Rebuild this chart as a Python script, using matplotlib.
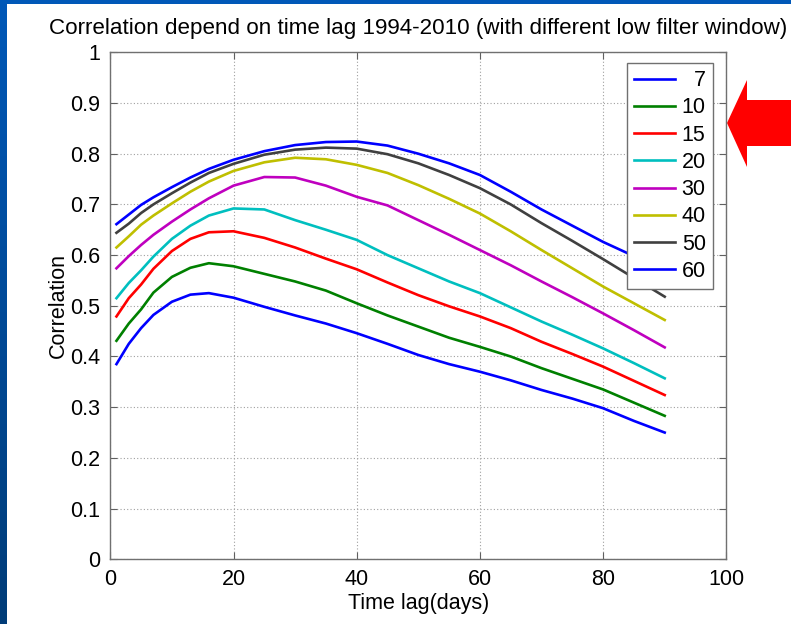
import numpy as np
import matplotlib
matplotlib.use("Agg")
import matplotlib.pyplot as plt
from matplotlib.patches import Polygon, Rectangle
from matplotlib.colors import LinearSegmentedColormap

plt.rcParams['font.family'] = ['Liberation Sans', 'DejaVu Sans']

# ---- data ----
lags = [1, 3, 5, 7, 10, 13, 16, 20, 25, 30, 35, 40, 45, 50, 55, 60, 65, 70, 75, 80, 85, 90]
windows = ["7", "10", "15", "20", "30", "40", "50", "60"]
corr_7 = [0.385, 0.425, 0.456, 0.482, 0.508, 0.522, 0.525, 0.516, 0.498, 0.481, 0.465, 0.446,
          0.425, 0.403, 0.385, 0.370, 0.353, 0.334, 0.317, 0.298, 0.273, 0.250]
corr_10 = [0.431, 0.465, 0.493, 0.526, 0.557, 0.575, 0.584, 0.578, 0.563, 0.548, 0.530, 0.505,
           0.481, 0.459, 0.437, 0.419, 0.400, 0.377, 0.356, 0.335, 0.309, 0.283]
corr_15 = [0.479, 0.515, 0.542, 0.573, 0.608, 0.632, 0.645, 0.647, 0.634, 0.615, 0.593, 0.572,
           0.546, 0.521, 0.499, 0.479, 0.456, 0.429, 0.405, 0.380, 0.352, 0.324]
corr_20 = [0.515, 0.545, 0.570, 0.597, 0.632, 0.658, 0.678, 0.692, 0.690, 0.669, 0.650, 0.630,
           0.600, 0.574, 0.548, 0.525, 0.497, 0.469, 0.443, 0.416, 0.387, 0.357]
corr_30 = [0.574, 0.598, 0.620, 0.640, 0.666, 0.690, 0.712, 0.737, 0.754, 0.753, 0.737, 0.715,
           0.698, 0.669, 0.640, 0.610, 0.580, 0.548, 0.517, 0.485, 0.452, 0.418]
corr_40 = [0.615, 0.637, 0.660, 0.678, 0.702, 0.725, 0.745, 0.766, 0.783, 0.792, 0.789, 0.778,
           0.762, 0.738, 0.711, 0.682, 0.647, 0.610, 0.574, 0.538, 0.505, 0.472]
corr_50 = [0.644, 0.662, 0.683, 0.700, 0.722, 0.743, 0.762, 0.780, 0.798, 0.808, 0.812, 0.810,
           0.799, 0.781, 0.758, 0.732, 0.700, 0.663, 0.628, 0.592, 0.555, 0.518]
corr_60 = [0.661, 0.680, 0.699, 0.714, 0.734, 0.753, 0.770, 0.788, 0.805, 0.817, 0.823, 0.824,
           0.816, 0.800, 0.781, 0.758, 0.725, 0.690, 0.658, 0.626, 0.598, 0.565]
xticks = [0, 20, 40, 60, 80, 100]
yticks = [0, 0.1, 0.2, 0.3, 0.4, 0.5, 0.6, 0.7, 0.8, 0.9, 1]
ytick_labels = ["0", "0.1", "0.2", "0.3", "0.4", "0.5", "0.6", "0.7", "0.8", "0.9", "1"]

series = [corr_7, corr_10, corr_15, corr_20, corr_30, corr_40, corr_50, corr_60]
colors = ["#0000ff", "#008000", "#ff0000", "#00bfbf", "#bf00bf", "#bfbf00", "#404040", "#0000ff"]

W, H = 791, 624
fig = plt.figure(figsize=(W / 100, H / 100), dpi=100)
fig.patch.set_facecolor("white")

# slide background strips
bg = fig.add_axes([0, 0, 1, 1], zorder=-10)
bg.axis("off")
grad = np.linspace(0, 1, 200).reshape(-1, 1)
cm = LinearSegmentedColormap.from_list("slide", ["#0058b8", "#003c78"])
bg.imshow(grad, cmap=cm, extent=[0, 7, H, 0], aspect="auto")
bg.add_patch(Rectangle((0, 0), W, 4, color="#0058b8", lw=0))
bg.set_xlim(0, W); bg.set_ylim(H, 0)
# red arrow
arrow = [(727, 123), (747, 80), (747, 100), (791, 100), (791, 146), (747, 146), (747, 167)]
bg.add_patch(Polygon(arrow, closed=True, color="#ff0000", lw=0))

ax = fig.add_axes([110.3 / W, 1 - 559.3 / H, 616 / W, 507 / H])
for s, c, lab in zip(series, colors, windows):
    ax.plot(lags, s, color=c, lw=1.9, label="\u2007" * (2 - len(lab)) + lab)

ax.set_xlim(0, 100)
ax.set_ylim(0, 1)
ax.set_xticks(xticks)
ax.set_yticks(yticks)
ax.set_yticklabels(ytick_labels)
ax.grid(True, linestyle=(0, (1, 2)), color="#a0a0a0", lw=0.8)
ax.tick_params(direction="in", length=5, width=0.8, top=True, right=True,
               labelsize=15.5, colors="#606060", labelcolor="black", pad=7)
for sp in ax.spines.values():
    sp.set_color("#707070")
    sp.set_linewidth(1.0)

ax.set_title("Correlation depend on time lag 1994-2010 (with different low filter window)",
             fontsize=16.1, pad=13)
ax.set_xlabel("Time lag(days)", fontsize=15.5, labelpad=2)
ax.set_ylabel("Correlation", fontsize=15.5, labelpad=1)

leg = ax.legend(loc="upper right", bbox_to_anchor=(0.979, 0.9795), borderaxespad=0,
                fontsize=15.5, handlelength=1.9, labelspacing=0.29, handletextpad=0.3,
                borderpad=0.35, fancybox=False, framealpha=1, edgecolor="#707070")
leg.get_frame().set_linewidth(1.0)

fig.savefig("out.png", dpi=100)
